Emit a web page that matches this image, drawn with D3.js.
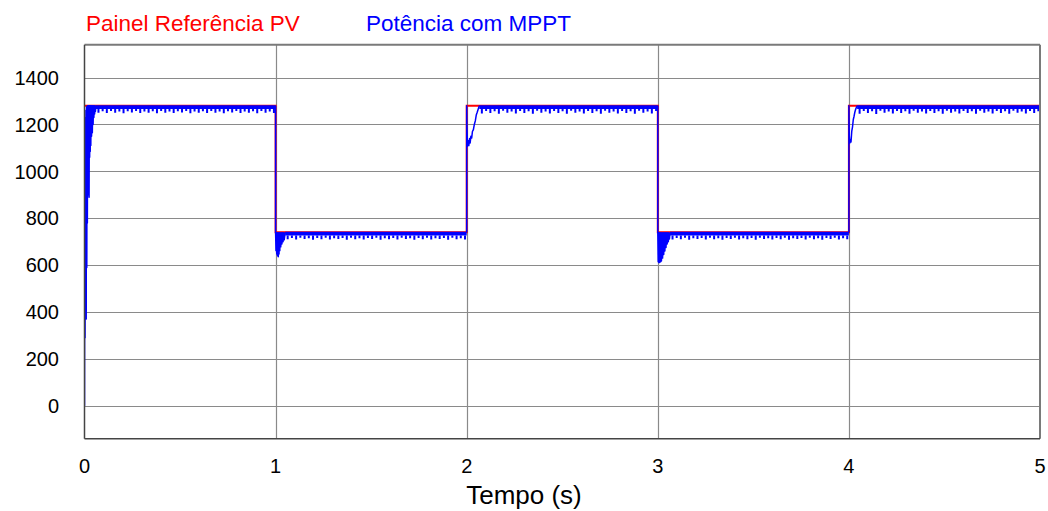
<!DOCTYPE html>
<html>
<head>
<meta charset="utf-8">
<script src="https://cdn.jsdelivr.net/npm/d3@7"></script>
<style>
  body { margin: 0; background: #fff; }
  text { font-family: "Liberation Sans", Arial, sans-serif; }
</style>
</head>
<body>
<div id="chart"></div>
<script>
// ---- dados ----
var xTicks = [0, 1, 2, 3, 4, 5];
var yTicks = [0, 200, 400, 600, 800, 1000, 1200, 1400];

// referencia do painel PV (degraus de irradiancia)
var refTempo = [0, 1, 1, 2, 2, 3, 3, 4, 4, 5];
var refPotencia = [1280, 1280, 740, 740, 1280, 1280, 740, 740, 1280, 1280];

// transitorios da potencia com MPPT [t (s), P (W)]
var transPartida = [[0, 0], [0.0015, 1180], [0.003, 290], [0.0045, 1230], [0.006, 600], [0.0075, 1260],
  [0.009, 370], [0.0105, 1275], [0.012, 590], [0.0135, 1278], [0.015, 780], [0.0165, 1280], [0.018, 900],
  [0.0195, 1280], [0.021, 1000], [0.0225, 1280], [0.024, 890], [0.0255, 1280], [0.027, 1060], [0.0285, 1280],
  [0.030, 1085], [0.0315, 1280], [0.033, 1110], [0.035, 1280], [0.037, 1150], [0.039, 1280], [0.041, 1165],
  [0.043, 1280], [0.045, 1200], [0.047, 1280], [0.049, 1230], [0.051, 1280], [0.053, 1245], [0.055, 1280],
  [0.057, 1255], [0.06, 1280]];
var trans1 = [[1, 1280], [1, 740], [1.002, 662], [1.004, 738], [1.006, 648], [1.008, 738], [1.010, 640],
  [1.012, 738], [1.014, 636], [1.016, 738], [1.018, 648], [1.020, 738], [1.022, 662], [1.024, 738],
  [1.027, 678], [1.030, 738], [1.033, 690], [1.036, 738], [1.039, 700], [1.042, 738], [1.045, 708], [1.05, 740]];
var trans2 = [[2, 740], [2, 1280], [2.001, 1200], [2.004, 1107], [2.008, 1130], [2.011, 1110], [2.015, 1140],
  [2.018, 1121], [2.022, 1150], [2.026, 1142], [2.030, 1170], [2.035, 1178], [2.040, 1200], [2.045, 1215],
  [2.050, 1240], [2.055, 1252], [2.060, 1265], [2.066, 1280]];
var trans3 = [[3, 1280], [3, 740], [3.002, 615], [3.004, 738], [3.006, 610], [3.008, 738], [3.010, 612],
  [3.012, 738], [3.014, 614], [3.016, 738], [3.019, 618], [3.022, 738], [3.025, 630], [3.028, 738],
  [3.031, 645], [3.034, 738], [3.037, 660], [3.040, 738], [3.043, 675], [3.046, 738], [3.049, 690],
  [3.052, 738], [3.055, 700], [3.058, 738], [3.061, 712], [3.064, 740]];
var trans4 = [[4, 740], [4, 1280], [4.002, 1150], [4.005, 1121], [4.008, 1135], [4.011, 1125], [4.015, 1171],
  [4.019, 1190], [4.023, 1221], [4.027, 1235], [4.031, 1252], [4.035, 1264], [4.039, 1272], [4.043, 1280]];

// regime permanente: faixa de oscilacao e dentes (ripple) por patamar
var regInicio = [0.06, 1.05, 2.066, 3.064, 4.043];
var regFim = [1, 2, 3, 4, 5];
var faixaTopo = [1282, 742, 1282, 742, 1282];
var faixaBase = [1266, 726, 1266, 726, 1266];
var dentes0 = [1250, 1256, 1249, 1257, 1250, 1255, 1248, 1256, 1251, 1257, 1249, 1255, 1250, 1256, 1248,
  1257, 1250, 1255, 1249, 1256, 1251, 1257, 1248, 1255, 1250, 1256, 1249, 1257, 1250, 1255, 1248, 1256,
  1251, 1257, 1249, 1255, 1250, 1256, 1248, 1257, 1250, 1255, 1249];
var dentes1 = [710, 716, 709, 717, 711, 715, 708, 716, 710, 717, 709, 715, 711, 716, 708, 717, 710, 715,
  709, 716, 711, 717, 708, 715, 710, 716, 709, 717, 711, 715, 708, 716, 710, 717, 709, 715, 711, 716, 708,
  717, 710, 715, 709];
var dentes2 = [1247, 1257, 1249, 1256, 1246, 1258, 1250, 1255, 1247, 1257, 1249, 1256, 1246, 1258, 1250,
  1255, 1247, 1257, 1249, 1256, 1246, 1258, 1250, 1255, 1247, 1257, 1249, 1256, 1246, 1258, 1250, 1255,
  1247, 1257, 1249, 1256, 1246, 1258, 1250, 1255, 1247, 1257];
var dentes3 = [709, 716, 710, 717, 708, 715, 711, 716, 709, 717, 710, 715, 708, 716, 711, 717, 709, 715,
  710, 716, 708, 717, 711, 715, 709, 716, 710, 717, 708, 715, 711, 716, 709, 717, 710, 715, 708, 716, 711,
  717, 709, 715, 710];
var dentes4 = [1246, 1257, 1249, 1256, 1245, 1258, 1250, 1255, 1247, 1257, 1249, 1256, 1246, 1258, 1250,
  1255, 1247, 1257, 1249, 1256, 1246, 1258, 1250, 1255, 1247, 1257, 1249, 1256, 1246, 1258, 1250, 1255,
  1247, 1257, 1249, 1256, 1246, 1258, 1250, 1255, 1247, 1257, 1249, 1256];

var legendas = ['Painel Referência PV', 'Potência com MPPT'];
var tituloX = 'Tempo (s)';

// ---- grafico ----
var _width = 1048, _height = 511;
var _left = 84.5, _right = 1040, _top = 44.7, _bottom = 438.7;
var _red = '#ff0000', _blue = '#0000ff', _grid = '#8a8a8a';

var _x = d3.scaleLinear().domain([0, 5]).range([_left, _right]);
var _y = d3.scaleLinear().domain([-140, 1540]).range([_bottom, _top]);

var svg = d3.select('#chart').append('svg')
    .attr('width', _width).attr('height', _height);

svg.append('defs').append('clipPath').attr('id', 'plot')
    .append('rect')
    .attr('x', _left).attr('y', _top)
    .attr('width', _right - _left).attr('height', _bottom - _top);

// grade
var gridG = svg.append('g').attr('class', 'grid');
gridG.selectAll('line.h').data(yTicks).enter().append('line')
    .attr('x1', _left).attr('x2', _right)
    .attr('y1', function (d) { return Math.round(_y(d)) + 0.5; })
    .attr('y2', function (d) { return Math.round(_y(d)) + 0.5; })
    .attr('stroke', _grid).attr('stroke-width', 1.2);
gridG.selectAll('line.v').data(xTicks.slice(1, -1)).enter().append('line')
    .attr('y1', _top).attr('y2', _bottom)
    .attr('x1', function (d) { return Math.round(_x(d)) + 0.5; })
    .attr('x2', function (d) { return Math.round(_x(d)) + 0.5; })
    .attr('stroke', _grid).attr('stroke-width', 1.2);

var plotG = svg.append('g').attr('clip-path', 'url(#plot)');

var line = d3.line()
    .x(function (d) { return _x(d[0]); })
    .y(function (d) { return _y(d[1]); });

// referencia (vermelho, por baixo)
plotG.append('path')
    .datum(d3.zip(refTempo, refPotencia))
    .attr('fill', 'none').attr('stroke', _red).attr('stroke-width', 2)
    .attr('d', line);

// regime permanente (faixa + dentes)
var dentes = [dentes0, dentes1, dentes2, dentes3, dentes4];
var area = d3.area()
    .x(function (d) { return _x(d[0]); })
    .y0(function (d) { return _y(d[2]); })
    .y1(function (d) { return _y(d[1]); });

dentes.forEach(function (lista, i) {
    plotG.append('path')
        .datum([[regInicio[i], faixaTopo[i], faixaBase[i]], [regFim[i], faixaTopo[i], faixaBase[i]]])
        .attr('fill', _blue)
        .attr('d', area);

    var passo = (regFim[i] - regInicio[i]) / lista.length;
    var tx = d3.scaleLinear().domain([0, lista.length - 1])
        .range([regInicio[i] + passo * 0.6, regFim[i] - passo * 0.4]);

    plotG.selectAll(null).data(lista).enter().append('line')
        .attr('x1', function (d, j) { return _x(tx(j)); })
        .attr('x2', function (d, j) { return _x(tx(j)); })
        .attr('y1', _y(faixaBase[i]))
        .attr('y2', function (d) { return _y(d); })
        .attr('stroke', _blue).attr('stroke-width', 2);
});

// transitorios (azul)
[transPartida, trans1, trans2, trans3, trans4].forEach(function (serie) {
    plotG.append('path')
        .datum(serie)
        .attr('fill', 'none').attr('stroke', _blue).attr('stroke-width', 1.5)
        .attr('stroke-linejoin', 'round')
        .attr('d', line);
});

// moldura
svg.append('line').attr('x1', _left).attr('x2', _right).attr('y1', _top).attr('y2', _top)
    .attr('stroke', '#7a7a7a').attr('stroke-width', 2);
svg.append('line').attr('x1', _right).attr('x2', _right).attr('y1', _top).attr('y2', _bottom)
    .attr('stroke', '#7a7a7a').attr('stroke-width', 2);
svg.append('line').attr('x1', _left).attr('x2', _left).attr('y1', _top).attr('y2', _bottom)
    .attr('stroke', '#444').attr('stroke-width', 1.5);
svg.append('line').attr('x1', _left).attr('x2', _right).attr('y1', _bottom).attr('y2', _bottom)
    .attr('stroke', '#444').attr('stroke-width', 1.5);

// rotulos dos eixos
svg.append('g').selectAll('text').data(yTicks).enter().append('text')
    .attr('x', 59).attr('y', function (d) { return _y(d); })
    .attr('dy', '0.36em')
    .attr('text-anchor', 'end')
    .attr('font-size', 20).attr('fill', '#000')
    .text(function (d) { return d; });

svg.append('g').selectAll('text').data(xTicks).enter().append('text')
    .attr('x', function (d) { return _x(d); }).attr('y', 473)
    .attr('text-anchor', 'middle')
    .attr('font-size', 20).attr('fill', '#000')
    .text(function (d) { return d; });

svg.append('text')
    .attr('x', 524).attr('y', 504)
    .attr('text-anchor', 'middle')
    .attr('font-size', 26).attr('fill', '#000')
    .text(tituloX);

// legenda
svg.append('text').attr('x', 86).attr('y', 31)
    .attr('font-size', 22.5).attr('fill', _red).text(legendas[0]);
svg.append('text').attr('x', 366).attr('y', 31)
    .attr('font-size', 22.5).attr('fill', _blue).text(legendas[1]);
</script>
</body>
</html>
